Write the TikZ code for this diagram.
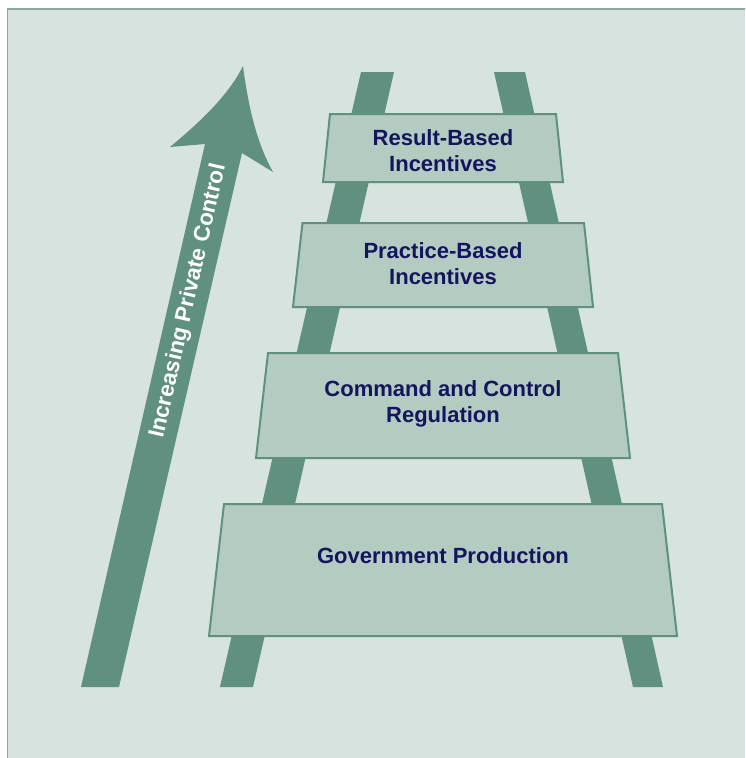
\documentclass[tikz,border=0pt]{standalone}
\usepackage{fontspec}
\setmainfont{Liberation Sans}
\definecolor{bgc}{HTML}{D7E3DF}
\definecolor{railc}{HTML}{5F9080}
\definecolor{boxc}{HTML}{B4CBC1}
\definecolor{framec}{HTML}{8AA89D}
\definecolor{navy}{HTML}{13155E}
\tikzset{
  rail/.style={fill=railc, draw=none},
  rung/.style={fill=boxc, draw=railc, line width=2pt, line join=miter},
  lbl/.style={font=\fontsize{22}{26}\selectfont\bfseries, text=navy, align=center, inner sep=0pt},
  arrlbl/.style={font=\fontsize{22.5}{26}\selectfont\bfseries, text=white, inner sep=0pt}
}
\begin{document}
\begin{tikzpicture}[x=1pt,y=1pt]
\useasboundingbox (0,0) rectangle (745,-758);
\fill[white] (0,0) rectangle (745,-758);
\fill[bgc] (7.5,-9) rectangle (745,-758);
\draw[framec, line width=1.5pt] (7.5,-758) -- (7.5,-9) -- (745,-9);
% arrow
\fill[railc] (243,-66) .. controls (249,-112) and (258,-145) .. (273,-172)
  -- (242,-153) -- (119,-687) -- (81,-687) -- (205,-144) -- (170,-147)
  .. controls (200,-122) and (228,-96) .. (243,-66) -- cycle;
\node[arrlbl, rotate=77.1] (arrtext) at (188.5,-301) {Increasing Private Control};
% rails
\fill[rail] (361,-72) -- (394,-72) -- (253,-687) -- (220,-687) -- cycle;
\fill[rail] (494,-72) -- (525,-72) -- (663,-687) -- (633,-687) -- cycle;
% rungs
\draw[rung] (330,-114) -- (556,-114) -- (563,-182) -- (323,-182) -- cycle;
\draw[rung] (302.5,-223) -- (584,-223) -- (593,-307) -- (293,-307) -- cycle;
\draw[rung] (268,-353) -- (618,-353) -- (630,-458) -- (256,-458) -- cycle;
\draw[rung] (224,-504) -- (662,-504) -- (677,-636) -- (209,-636) -- cycle;
\node[lbl] (r1) at (443,-150.5) {Result-Based\\Incentives};
\node[lbl] (r2) at (443,-263.5) {Practice-Based\\Incentives};
\node[lbl] (r3) at (443,-404) {Command and Control\\Regulation};
\node[lbl, anchor=base] (r4) at (443,-563) {Government Production};
\end{tikzpicture}
\end{document}
